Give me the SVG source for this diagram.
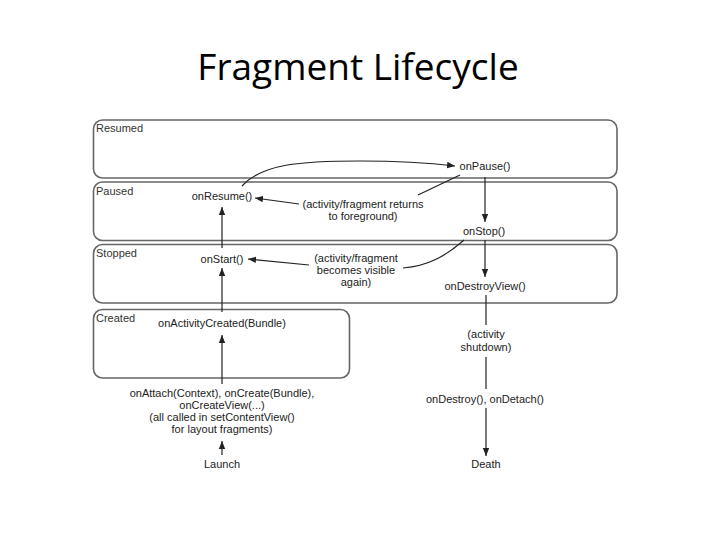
<svg xmlns="http://www.w3.org/2000/svg" width="720" height="540" viewBox="0 0 720 540">
<defs>
<marker id="ah" viewBox="0 0 10 10" refX="10" refY="5" markerWidth="8" markerHeight="8" markerUnits="userSpaceOnUse" orient="auto">
<path d="M0,1 L10,5 L0,9 Z" fill="#222"/>
</marker>
</defs>
<style>
.state{fill:#fff;stroke:#666;stroke-width:1.6}
.slabel{font-family:"Liberation Sans",Arial,sans-serif;font-size:11px;fill:#333}
.t{font-family:"Liberation Sans",Arial,sans-serif;font-size:11px;fill:#222;text-anchor:middle}
.c{fill:none;stroke:#222;stroke-width:1.2}
.a{marker-end:url(#ah)}
</style>
<rect width="720" height="540" fill="#fff"/>
<text x="358" y="80" font-family="'Open Sans','Noto Sans',sans-serif" font-size="37" fill="#000" text-anchor="middle">Fragment Lifecycle</text>

<g id="resumed">
<rect class="state" x="93.5" y="120" width="523.5" height="58" rx="9"/>
<text class="slabel" x="96" y="132">Resumed</text>
</g>
<g id="paused">
<rect class="state" x="93.5" y="182" width="523.5" height="58.5" rx="9"/>
<text class="slabel" x="96" y="195">Paused</text>
</g>
<g id="stopped">
<rect class="state" x="93.5" y="244.5" width="523.5" height="58.5" rx="9"/>
<text class="slabel" x="96" y="257">Stopped</text>
</g>
<g id="created">
<rect class="state" x="93.5" y="309.5" width="256" height="68.5" rx="9"/>
<text class="slabel" x="96" y="322">Created</text>
</g>

<g id="onResume"><text class="t" x="222" y="200">onResume()</text></g>
<g id="onStart"><text class="t" x="222" y="263">onStart()</text></g>
<g id="onActivityCreated"><text class="t" x="222" y="327">onActivityCreated(Bundle)</text></g>
<g id="onAttach">
<text class="t" x="222" y="397">onAttach(Context), onCreate(Bundle),</text>
<text class="t" x="222" y="409">onCreateView(...)</text>
<text class="t" x="222" y="421">(all called in setContentView()</text>
<text class="t" x="222" y="433">for layout fragments)</text>
</g>
<g id="launch"><text class="t" x="222" y="468">Launch</text></g>
<g id="onPause"><text class="t" x="485" y="170">onPause()</text></g>
<g id="onStop"><text class="t" x="484" y="235">onStop()</text></g>
<g id="onDestroyView"><text class="t" x="485" y="290">onDestroyView()</text></g>
<g id="shutdown">
<text class="t" x="486" y="338">(activity</text>
<text class="t" x="486" y="351">shutdown)</text>
</g>
<g id="onDestroy"><text class="t" x="485" y="403">onDestroy(), onDetach()</text></g>
<g id="death"><text class="t" x="486" y="468">Death</text></g>
<g id="returnsForeground">
<text class="t" x="363" y="208">(activity/fragment returns</text>
<text class="t" x="363" y="220">to foreground)</text>
</g>
<g id="becomesVisible">
<text class="t" x="356" y="262">(activity/fragment</text>
<text class="t" x="356" y="274">becomes visible</text>
<text class="t" x="356" y="286">again)</text>
</g>

<g id="connectors">
<path class="c a" d="M242,186 C262,164 300,161 360,161 C400,161 430,163 455,166"/>
<path class="c a" d="M299,204 L255,198"/>
<path class="c" d="M460,175 L418,195"/>
<path class="c a" d="M309,265 L248,259"/>
<path class="c" d="M464,240 C446,256 428,266 403,268"/>
<path class="c a" d="M222,248 L222,207"/>
<path class="c a" d="M222,312 L222,268"/>
<path class="c a" d="M222,384 L222,335"/>
<path class="c a" d="M222,455 L222,441"/>
<path class="c a" d="M485,177 L485,222"/>
<path class="c a" d="M485,240 L485,277"/>
<path class="c" d="M486,295 L486,325"/>
<path class="c" d="M486,357 L486,389"/>
<path class="c a" d="M486,408 L486,456"/>
</g>
</svg>
